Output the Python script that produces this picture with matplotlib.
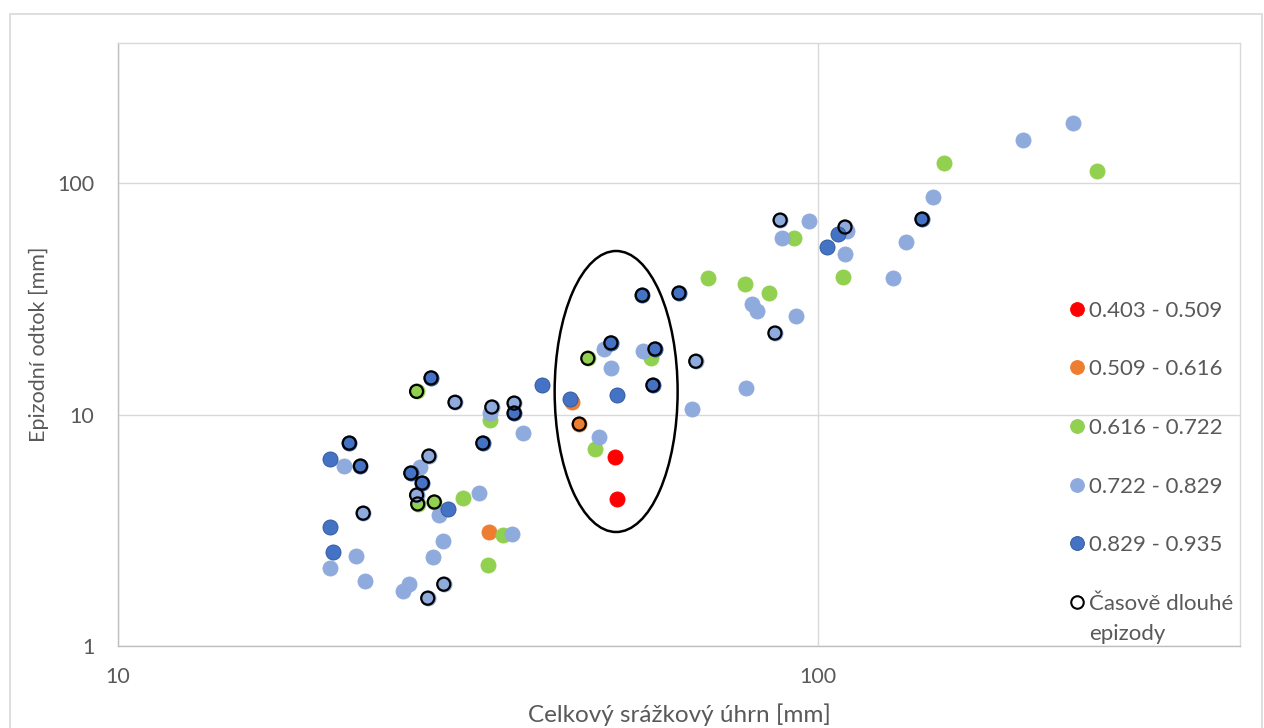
import matplotlib.pyplot as plt
from matplotlib.lines import Line2D
from matplotlib.patches import Ellipse, Rectangle
from matplotlib.ticker import NullLocator

plt.rcParams['font.family'] = ['Lato', 'DejaVu Sans']

# runoff coefficient classes: precipitation total [mm] vs. episode runoff [mm]
red_x = [51.3, 51.6]
red_y = [6.55, 4.32]

orange_x = [33.9, 44.5, 45.6]
orange_y = [3.11, 11.3, 9.10]

green_x = [26.7, 26.8, 28.3, 31.1, 34.0, 35.5, 33.8, 48.0, 46.9, 57.7,
           69.6, 78.7, 85.1, 92.4, 108.6, 151.4, 250.3]
green_y = [12.6, 4.11, 4.19, 4.36, 9.47, 3.02, 2.24, 7.10, 17.5, 17.6,
           38.9, 36.6, 33.5, 57.9, 39.3, 122.0, 112.7]

lblue_x = [21.0, 22.4, 20.1, 21.9, 22.5, 25.5, 26.0, 27.7, 29.2, 28.2,
           29.1, 27.0, 27.8, 26.7, 28.7, 32.8, 30.3, 34.0, 34.2, 36.8,
           37.9, 36.6, 48.7, 49.5, 50.6, 56.2, 66.9, 66.1, 80.5, 81.8,
           93.0, 86.8, 78.9, 88.3, 97.1, 88.8, 110.0, 109.3, 109.3, 128.0,
           133.6, 146.0, 196.3, 231.4]
lblue_y = [5.99, 3.75, 2.17, 2.45, 1.91, 1.73, 1.85, 1.61, 1.85, 2.42,
           2.84, 5.93, 6.62, 4.49, 3.68, 4.58, 11.3, 10.15, 10.78, 11.21,
           8.32, 3.05, 7.99, 19.2, 15.9, 18.8, 17.0, 10.56, 30.0, 28.0,
           26.6, 22.5, 13.0, 69.2, 68.5, 57.9, 62.0, 64.6, 49.4, 38.9,
           55.6, 87.0, 153.4, 181.6]

dblue_x = [20.1, 21.4, 22.2, 20.1, 20.3, 26.2, 27.2, 29.6, 33.2, 28.0,
           36.8, 40.3, 44.2, 50.6, 51.6, 58.5, 58.1, 56.1, 63.3, 103.0,
           106.8, 140.8]
dblue_y = [6.42, 7.53, 5.99, 3.27, 2.55, 5.59, 5.06, 3.91, 7.53, 14.4,
           10.15, 13.4, 11.7, 20.4, 12.1, 19.2, 13.4, 32.8, 33.5, 52.9,
           60.2, 69.9]

# long-duration episodes (ringed)
long_x = [26.7, 26.8, 28.3, 46.9, 45.6, 22.4, 27.7, 29.2, 27.8, 26.7,
          30.3, 34.2, 36.8, 66.9, 86.8, 88.3, 109.3, 21.4, 22.2, 26.2,
          27.2, 33.2, 28.0, 36.8, 50.6, 58.5, 58.1, 56.1, 63.3, 140.8]
long_y = [12.6, 4.11, 4.19, 17.5, 9.10, 3.75, 1.61, 1.85, 6.62, 4.49,
          11.3, 10.78, 11.21, 17.0, 22.5, 69.2, 64.6, 7.53, 5.99, 5.59,
          5.06, 7.53, 14.4, 10.15, 20.4, 19.2, 13.4, 32.8, 33.5, 69.9]

labels = ['0.403 - 0.509', '0.509 - 0.616', '0.616 - 0.722',
          '0.722 - 0.829', '0.829 - 0.935']
colors = ['#FF0000', '#ED7D31', '#92D050', '#8FAADC', '#4472C4']
edges = ['#FF0000', '#ED7D31', '#92D050', '#8FAADC', '#2F5597']
long_label = ['Časově dlouhé', 'epizody']

x_ticks = [10, 100]
y_ticks = [1, 10, 100]

text_col = '#595959'

fig = plt.figure(figsize=(12.64, 7.28), dpi=100)
ax = fig.add_axes([0.0934, 0.1126, 0.8877, 0.8283])

series = [(red_x, red_y), (orange_x, orange_y), (green_x, green_y),
          (lblue_x, lblue_y), (dblue_x, dblue_y)]
for i, (xs, ys) in enumerate(series):
    ax.scatter(xs, ys, s=118, c=colors[i], edgecolors=edges[i],
               linewidths=0.6, zorder=3 + i)
ax.scatter(long_x, long_y, s=88, facecolors='none', edgecolors='black',
           linewidths=1.6, zorder=10)

ax.set_xscale('log')
ax.set_yscale('log')
ax.set_xlim(10, 401)
ax.set_ylim(1, 403)
ax.set_xticks(x_ticks)
ax.set_xticklabels([str(v) for v in x_ticks])
ax.set_yticks(y_ticks)
ax.set_yticklabels([str(v) for v in y_ticks])
ax.xaxis.set_minor_locator(NullLocator())
ax.yaxis.set_minor_locator(NullLocator())
ax.tick_params(axis='x', length=0, pad=15, labelsize=15.5, labelcolor=text_col)
ax.tick_params(axis='y', length=0, pad=17, labelsize=15.5, labelcolor=text_col)
ax.grid(True, color='#D9D9D9', linewidth=1.0)
ax.set_axisbelow(True)
for side in ['left', 'bottom']:
    ax.spines[side].set_color('#BFBFBF')
    ax.spines[side].set_linewidth(1.0)
for side in ['top', 'right']:
    ax.spines[side].set_color('#D9D9D9')
    ax.spines[side].set_linewidth(1.0)

ax.set_xlabel('Celkový srážkový úhrn [mm]', fontsize=17.5, color=text_col,
              labelpad=12)
ax.set_ylabel('Epizodní odtok [mm]', fontsize=15.5, color=text_col,
              labelpad=6)

# highlighted group of episodes
ax.add_patch(Ellipse((0.4439, 0.4221), 0.1096, 0.466, transform=ax.transAxes,
                     fill=False, edgecolor='black', linewidth=1.8, zorder=11))

handles = [Line2D([], [], ls='none', marker='o', markersize=10,
                  markerfacecolor=colors[i], markeredgecolor=edges[i],
                  markeredgewidth=0.6) for i in range(5)]
handles.append(Line2D([], [], ls='none', marker='o', markersize=9,
                      markerfacecolor='white', markeredgecolor='black',
                      markeredgewidth=1.5))
leg = fig.legend(handles, labels + [long_label[0]], loc='upper left',
                 bbox_to_anchor=(0.8465, 0.5871), frameon=False, fontsize=16,
                 labelcolor=text_col, handlelength=0.6, handletextpad=0.25,
                 labelspacing=1.74, borderpad=0, borderaxespad=0)
# second line of the last legend label sits under the first one;
# drawn after the legend so the anchor text is already placed
fig.add_artist(plt.Annotation(long_label[1], xy=(0, 0),
                              xycoords=leg.get_texts()[-1],
                              xytext=(0, -30), textcoords='offset pixels',
                              va='bottom', ha='left', fontsize=16,
                              color=text_col, zorder=20))

# outer chart frame
fig.patches.append(Rectangle((0.0079, -0.05), 0.9905, 1.0308,
                             transform=fig.transFigure, fill=False,
                             edgecolor='#D9D9D9', linewidth=1.2))

fig.savefig('out.png', dpi=100)
